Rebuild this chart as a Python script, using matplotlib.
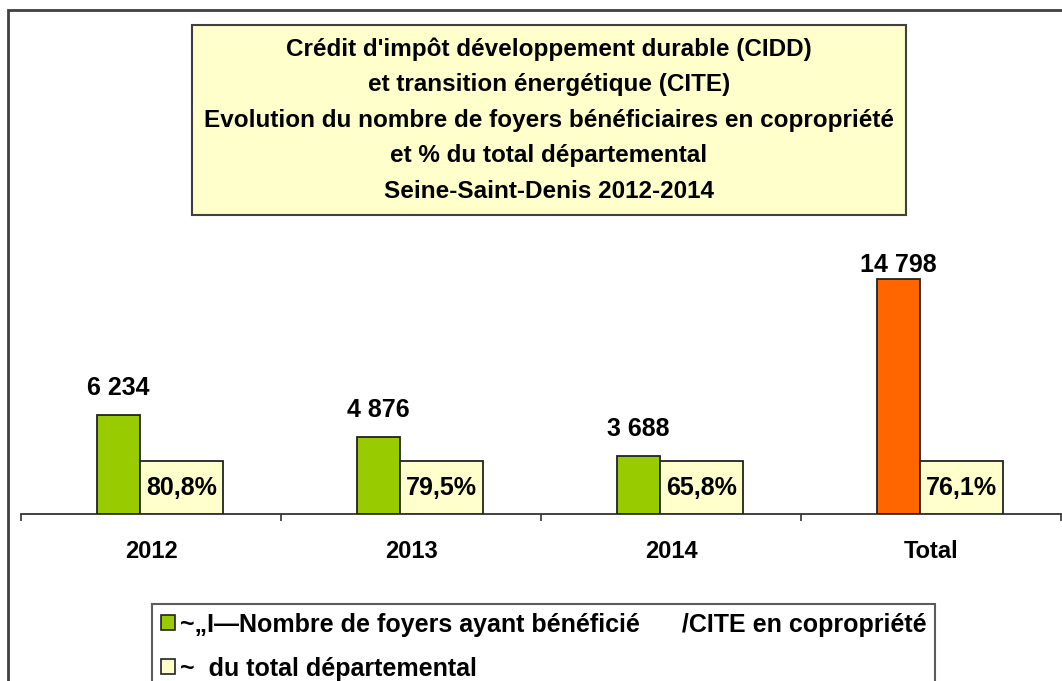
import matplotlib
matplotlib.use('Agg')
import matplotlib.pyplot as plt
import matplotlib.patches as mpatches
import numpy as np

plt.rcParams['font.family'] = ['Liberation Sans', 'DejaVu Sans']
plt.rcParams['font.weight'] = 'bold'

categories = ['2012', '2013', '2014', 'Total']
foyers = [6234, 4876, 3688, 14798]
foyers_labels = ['6 234', '4 876', '3 688', '14 798']
pct_labels = ['80,8%', '79,5%', '65,8%', '76,1%']
bar_colors = ['#99CC00', '#99CC00', '#99CC00', '#FF6600']

title = ("Crédit d'impôt développement durable (CIDD)\n"
         "et transition énergétique (CITE)\n"
         "Evolution du nombre de foyers bénéficiaires en copropriété\n"
         "et % du total départemental\n"
         "Seine-Saint-Denis 2012-2014")
legend_labels = ['~\u201eI\u2014Nombre de foyers ayant bénéficié      /CITE en copropriété',
                 '~  du total départemental']

W, H = 1062, 681
fig = plt.figure(figsize=(W / 100, H / 100), dpi=100)

# outer frame (runs off the right and bottom edges)
fig.patches.append(mpatches.Rectangle((8 / W, -0.1), 1.2, 1.1 - 10 / H, transform=fig.transFigure,
                                      fill=False, edgecolor='#404040', lw=2))

ymax = 15700
ax = fig.add_axes([21 / W, 167 / H, 1040 / W, 249 / H])
x = np.arange(len(categories))
box_h = 3340
ax.bar(x - 0.125, foyers, width=0.165, color=bar_colors, edgecolor='#222222', lw=1.3, zorder=3)
ax.bar(x + 0.118, [box_h] * len(categories), width=0.32, color='#FFFFCC', edgecolor='#222222', lw=1.3, zorder=3)

for xi, v, lab in zip(x, foyers, foyers_labels):
    ax.text(xi - 0.125, min(v + 1680, ymax), lab, ha='center', va='center', fontsize=18, fontweight='bold')
for xi, lab in zip(x, pct_labels):
    ax.text(xi + 0.118, box_h / 2, lab, ha='center', va='center', fontsize=18, fontweight='bold', zorder=4)

ax.set_xlim(-0.5, 3.5)
ax.set_ylim(0, ymax)
ax.set_xticks(x)
ax.set_xticklabels(categories, fontsize=17, fontweight='bold')
ax.set_xticks(np.arange(-0.5, 4.0, 1), minor=True)
ax.tick_params(axis='x', which='major', length=0, pad=19)
ax.tick_params(axis='x', which='minor', length=5, width=1.2, color='#333333')
ax.set_yticks([])
for s in ['top', 'right', 'left']:
    ax.spines[s].set_visible(False)
ax.spines['bottom'].set_color('#333333')
ax.spines['bottom'].set_linewidth(1.3)
ax.patch.set_alpha(0)

# title box
fig.patches.append(mpatches.Rectangle((192 / W, 1 - 215 / H), 714 / W, 190 / H, transform=fig.transFigure,
                                      facecolor='#FFFFCC', edgecolor='#404040', lw=1.5))
fig.text(549 / W, 1 - 120 / H, title, ha='center', va='center', fontsize=17.5, fontweight='bold',
         linespacing=1.7, multialignment='center')

handles = [mpatches.Patch(facecolor='#99CC00', edgecolor='#222222', lw=1.2),
           mpatches.Patch(facecolor='#FFFFCC', edgecolor='#222222', lw=1.2)]
leg = fig.legend(handles, legend_labels, loc='upper left', bbox_to_anchor=(152 / W, 1 - 604 / H),
                 fontsize=18, frameon=True, fancybox=False, edgecolor='#333333',
                 handlelength=0.55, handleheight=0.55, handletextpad=0.2, labelspacing=0.8,
                 borderpad=0.35, borderaxespad=0)
leg.get_frame().set_linewidth(1.5)
for t in leg.get_texts():
    t.set_fontweight('bold')

fig.savefig('out.png', dpi=100)
